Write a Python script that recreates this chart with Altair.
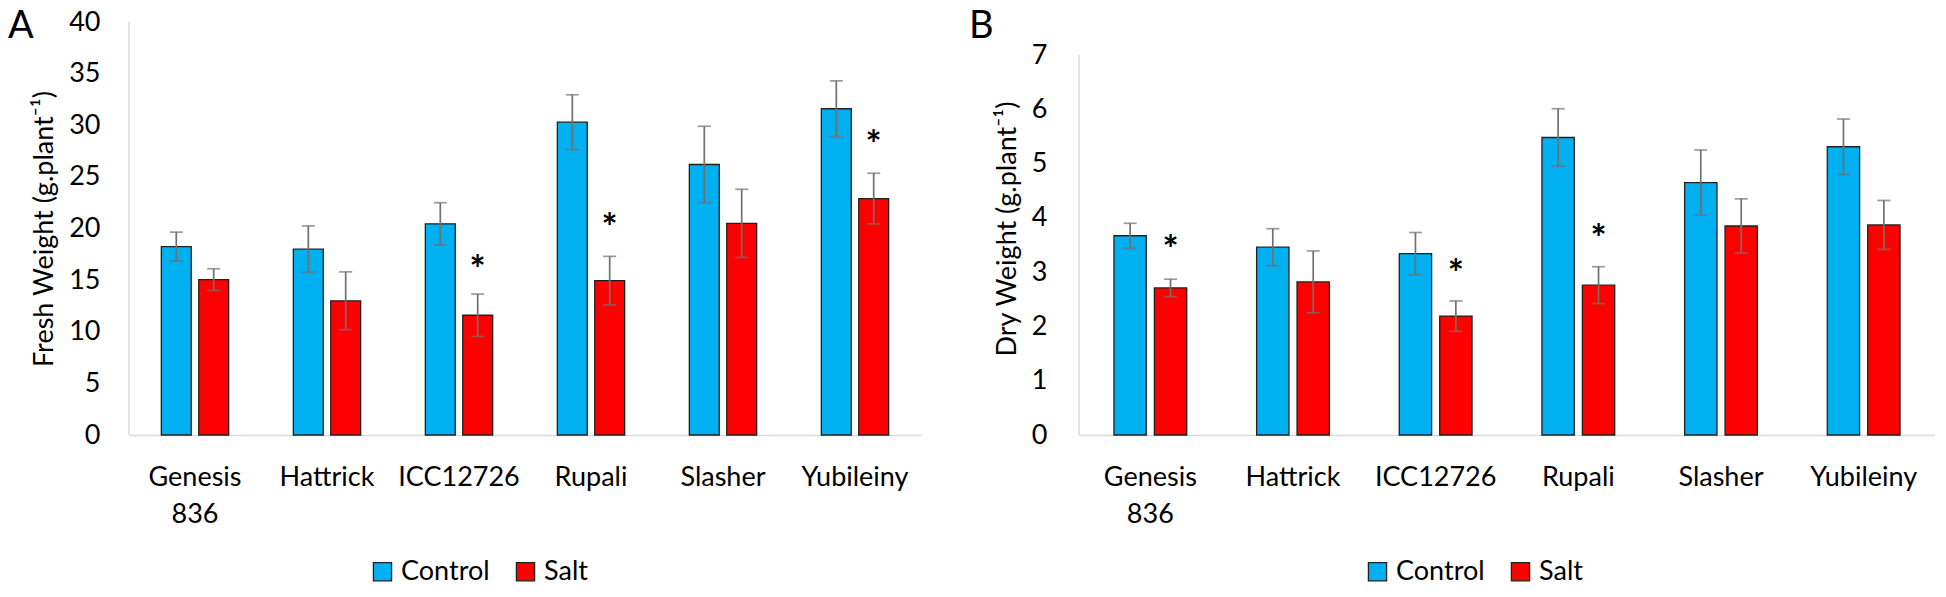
import altair as alt
import pandas as pd

# ---------------- data ----------------
cultivars = ["Genesis 836", "Hattrick", "ICC12726", "Rupali", "Slasher", "Yubileiny"]
treatments = ["Control", "Salt"]

# Panel A: fresh weight (g.plant-1)
fw_control = [18.25, 18.0, 20.45, 30.3, 26.2, 31.6]
fw_control_err = [1.4, 2.25, 2.05, 2.65, 3.7, 2.7]
fw_salt = [15.05, 13.0, 11.6, 14.95, 20.5, 22.9]
fw_salt_err = [1.05, 2.8, 2.05, 2.35, 3.3, 2.45]
fw_star = [None, None, 16.9, 20.9, None, 29.0]

# Panel B: dry weight (g.plant-1)
dw_control = [3.67, 3.46, 3.34, 5.48, 4.65, 5.31]
dw_control_err = [0.23, 0.34, 0.39, 0.53, 0.60, 0.51]
dw_salt = [2.71, 2.82, 2.19, 2.76, 3.85, 3.87]
dw_salt_err = [0.16, 0.57, 0.28, 0.34, 0.50, 0.45]
dw_star = [3.58, None, 3.13, 3.78, None, None]

fw_ticks = [0, 5, 10, 15, 20, 25, 30, 35, 40]
dw_ticks = [0, 1, 2, 3, 4, 5, 6, 7]

# ---------------- styling ----------------
FONT = "Lato"
BLUE = "#00B0F0"
RED = "#FF0000"
OUTLINE = "#202020"
ERR = "#707070"
AXISLINE = "#d9d9d9"
PLOT_H = 413


def panel_df(ctrl, ctrl_err, salt, salt_err):
    rows = []
    for i, c in enumerate(cultivars):
        for t, m, e in (("Control", ctrl[i], ctrl_err[i]), ("Salt", salt[i], salt_err[i])):
            rows.append({"cultivar": c, "treatment": t, "mean": m, "lo": m - e, "hi": m + e})
    return pd.DataFrame(rows)


def star_df(stars):
    return pd.DataFrame(
        [{"cultivar": c, "treatment": "Salt", "star": s, "mark": "*"}
         for c, s in zip(cultivars, stars) if s is not None]
    )


def panel(df, sdf, axis_top, scale_top, yvals, ytitle, w, letter, lx, legx, ylabpad):
    x = alt.X(
        "cultivar:N", sort=cultivars,
        scale=alt.Scale(paddingInner=0.49, paddingOuter=0.245),
        axis=alt.Axis(title=None, labelAngle=0, ticks=False, domainColor=AXISLINE,
                      domainWidth=1.5, labelFont=FONT, labelFontSize=27, labelColor="#000",
                      labelPadding=29, labelExpr="split(datum.label, ' ')",
                      labelLineHeight=37, labelOverlap=False),
    )
    xo = alt.XOffset("treatment:N", sort=treatments,
                     scale=alt.Scale(paddingInner=0.2, paddingOuter=0))
    yscale = alt.Scale(domain=[0, scale_top], nice=False)
    yaxis = alt.Axis(values=yvals, format="d", grid=False, ticks=False, domain=False,
                     labelFont=FONT, labelFontSize=27, labelColor="#000",
                     labelPadding=ylabpad, title=ytitle, titleFont=FONT, titleFontSize=27,
                     titleFontWeight="normal", titleColor="#000", titlePadding=10)

    bars = alt.Chart(df).mark_bar(stroke=OUTLINE, strokeWidth=1.3).encode(
        x=x, xOffset=xo,
        y=alt.Y("mean:Q", scale=yscale, axis=yaxis, title=ytitle),
        color=alt.Color(
            "treatment:N", sort=treatments,
            scale=alt.Scale(domain=treatments, range=[BLUE, RED]),
            legend=alt.Legend(orient="none", legendX=legx, legendY=536,
                              direction="horizontal", title=None, symbolType="square",
                              symbolSize=330, symbolStrokeColor=OUTLINE,
                              symbolStrokeWidth=1.3, labelFont=FONT, labelFontSize=27,
                              labelColor="#000", labelOffset=5, columnPadding=22,
                              padding=0),
        ),
    )
    # left axis line, drawn only from 0 to the top tick
    axline = alt.Chart(pd.DataFrame({"lo": [0], "hi": [axis_top]})).mark_rule(
        color=AXISLINE, strokeWidth=1.5).encode(
        x=alt.value(0), y=alt.Y("lo:Q", title=ytitle), y2="hi:Q")
    xr = alt.X("cultivar:N", sort=cultivars)
    rules = alt.Chart(df).mark_rule(color=ERR, strokeWidth=1.7).encode(
        x=xr, xOffset=xo, y=alt.Y("lo:Q", title=ytitle), y2="hi:Q")
    cap_lo = alt.Chart(df).mark_tick(color=ERR, thickness=1.7, size=13).encode(
        x=xr, xOffset=xo, y=alt.Y("lo:Q", title=ytitle))
    cap_hi = alt.Chart(df).mark_tick(color=ERR, thickness=1.7, size=13).encode(
        x=xr, xOffset=xo, y=alt.Y("hi:Q", title=ytitle))
    stars = alt.Chart(sdf).mark_text(font=FONT, fontSize=38, fontWeight="bold", color="#000",
                                     baseline="alphabetic", dy=22).encode(
        x=xr, xOffset=xo, y=alt.Y("star:Q", title=ytitle), text="mark:N")
    lab = alt.Chart(pd.DataFrame({"t": [letter]})).mark_text(
        font=FONT, fontSize=38, color="#000", align="left", baseline="alphabetic").encode(
        text="t:N", x=alt.value(lx), y=alt.value(16))
    return alt.layer(axline, bars, rules, cap_lo, cap_hi, stars, lab).properties(
        width=w, height=PLOT_H)


# panel B's top tick (7) sits 33 px below panel A's top tick (40)
pa = panel(panel_df(fw_control, fw_control_err, fw_salt, fw_salt_err), star_df(fw_star),
           40, 40, fw_ticks, "Fresh Weight (g.plant\u207b\u00b9)", 792,
           "A", -121, 240, 29)
pb = panel(panel_df(dw_control, dw_control_err, dw_salt, dw_salt_err), star_df(dw_star),
           7, 7 * PLOT_H / (PLOT_H - 33), dw_ticks, "Dry Weight (g.plant\u207b\u00b9)", 856,
           "B", -110, 285, 32)

chart = (
    alt.hconcat(pa, pb, spacing=48)
    .resolve_scale(x="independent", y="independent", color="independent", xOffset="independent")
    .resolve_legend(color="independent")
    .configure_view(stroke=None)
    .properties(padding=0, background="white")
)

chart.save("out.html", embed_options={"renderer": "svg", "actions": False})
